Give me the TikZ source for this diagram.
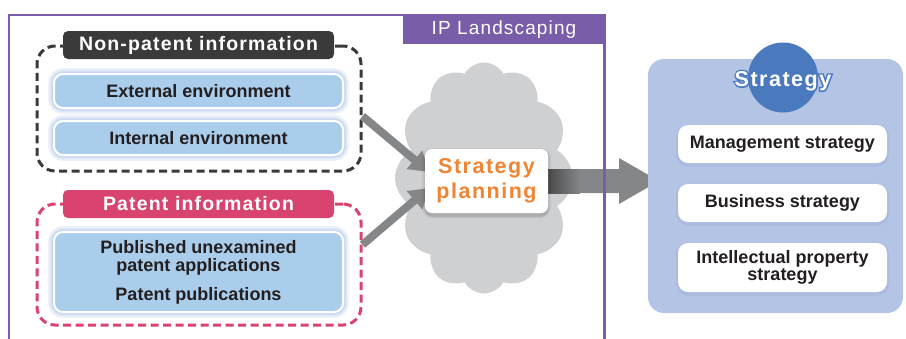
\documentclass[tikz,border=0pt]{standalone}
\usepackage{fontspec}
\setmainfont{Liberation Sans}
\newfontfamily\trackedfont[LetterSpace=6]{Liberation Sans}
\newfontfamily\widefont[LetterSpace=7]{Liberation Sans}
\newfontfamily\haloedfont[LetterSpace=7,FakeBold=14]{Liberation Sans}
\usetikzlibrary{arrows.meta,shapes.symbols,calc}

\definecolor{framepurple}{HTML}{7A5DA8}
\definecolor{inkdark}{HTML}{231F20}
\definecolor{darklabel}{HTML}{3A3A3A}
\definecolor{pinklabel}{HTML}{D8446F}
\definecolor{boxblue}{HTML}{ABCDEC}
\definecolor{glowblue}{HTML}{B9CDEB}
\definecolor{cloudgray}{HTML}{CFD0D2}
\definecolor{arrowgray}{HTML}{858688}
\definecolor{planorange}{HTML}{EF8533}
\definecolor{panelblue}{HTML}{B4C4E4}
\definecolor{circleblue}{HTML}{4A79BE}
\definecolor{panelshadow}{HTML}{98ACD8}

\newcommand{\bodytext}{\bfseries\fontsize{18}{18.5}\selectfont}

\tikzset{
  dashgroup/.style={draw, dashed, dash pattern=on 8pt off 4.5pt, line width=3pt,
    rounded corners=18pt, rectangle, inner sep=0pt},
  grouplabel/.style={rectangle, rounded corners=5pt, inner sep=0pt, text=white,
    minimum width=271pt, minimum height=28pt,
    font=\trackedfont\bfseries\fontsize{19.5}{19.5}\selectfont},
  infobox/.style={rectangle, rounded corners=9pt, draw=white, line width=2pt,
    fill=boxblue, text=inkdark, align=center, inner sep=0pt,
    minimum width=289pt, font=\bodytext,
    preaction={draw=glowblue, line width=12pt, opacity=0.25},
    preaction={draw=glowblue, line width=8pt, opacity=0.35},
    preaction={draw=glowblue, line width=5pt, opacity=0.5}},
  stratbox/.style={rectangle, rounded corners=10pt, fill=white, text=inkdark,
    align=center, inner sep=0pt, minimum width=209pt, font=\bodytext,
    preaction={draw=panelshadow, line width=4pt, opacity=0.35,
      transform canvas={yshift=-1.5pt}}},
  thinarrow/.style={draw=arrowgray, line width=8pt,
    -{Triangle[width=23pt,length=19pt]}},
}

\begin{document}
\begin{tikzpicture}[x=1pt,y=-1pt]
\useasboundingbox (0,0) rectangle (906,338);

% ---- non-patent group ----
\node[dashgroup, draw=darklabel, minimum width=324pt, minimum height=125pt] (np) at (199,108.5) {};
\node[grouplabel, fill=darklabel] (nplab) at (198.5,45) {Non-patent information};
\node[infobox, minimum height=34pt] (ext) at (198.5,91) {External environment};
\node[infobox, minimum height=34pt] (int) at (198.5,138) {Internal environment};

% ---- patent group ----
\node[dashgroup, draw=pinklabel, minimum width=324pt, minimum height=121pt] (pg) at (199,264.5) {};
\node[grouplabel, fill=pinklabel] (pglab) at (198.5,204) {Patent information};
\node[infobox, minimum height=80pt] (pub) at (198.5,272)
  {Published unexamined\\patent applications\\[10pt]Patent publications};

% ---- cloud and planning ----
\node[cloud, fill=cloudgray, draw=none, cloud puffs=12, cloud puff arc=120,
  aspect=0.77, minimum width=178pt, minimum height=231pt] (cl) at (484,178) {};

\draw[thinarrow] ($(np.north east)!0.56!(np.south east)$) -- (429,172) coordinate (t1);
\draw[thinarrow] ($(pg.north east)!0.34!(pg.south east)$) -- (429,188) coordinate (t2);

\coordinate (bigtip) at (659,181);
\fill[arrowgray] (540,169) -- (619,169) -- (619,158) -- (bigtip) -- (619,204)
  -- (619,193) -- (540,193) -- cycle;
% darker shading of the shaft next to the planning box
\shade[left color=black!55!arrowgray, right color=arrowgray]
  (540,169) rectangle (580,193);

\node[rectangle, rounded corners=7pt, fill=white, inner sep=0pt,
  minimum width=123pt, minimum height=64pt, align=center, text=planorange,
  font=\widefont\bfseries\fontsize{21.5}{25}\selectfont,
  preaction={fill=black, opacity=0.06, transform canvas={yshift=-4pt}},
  preaction={draw=black, line width=6pt, opacity=0.05, transform canvas={yshift=-2pt}},
  preaction={draw=black, line width=3pt, opacity=0.07, transform canvas={yshift=-2pt}}]
  (plan) at (486.5,181) {Strategy\\planning};

% ---- IP landscaping frame ----
\draw[framepurple, line width=2.5pt] (9,345) -- (9,15) -- (604.5,15) -- (604.5,345);
\fill[framepurple] (403,14) rectangle (605.7,44);
\node[text=white, font=\trackedfont\fontsize{19}{19}\selectfont] (iplab) at (504,29.5) {IP Landscaping};

% ---- strategy panel ----
\node[rectangle, rounded corners=16pt, fill=panelblue, minimum width=255pt,
  minimum height=254pt, inner sep=0pt] (panel) at (775.5,186) {};
\node[circle, fill=circleblue, minimum size=70pt, inner sep=0pt] (sc) at (783,77.5) {};
% blue halo under the white title
\node[text=circleblue, font=\haloedfont\bfseries\fontsize{21.5}{21.5}\selectfont]
  (shalo) at ($(sc)+(0,3.5)$) {Strategy};
\node[text=white, font=\widefont\bfseries\fontsize{21.5}{21.5}\selectfont]
  (stitle) at ($(sc)+(0,3.5)$) {Strategy};

\node[stratbox, minimum height=38pt] (ms) at (782.5,144) {Management strategy};
\node[stratbox, minimum height=38pt] (bs) at (782.5,203) {Business strategy};
\node[stratbox, minimum height=49pt, font=\bfseries\fontsize{18}{17.5}\selectfont]
  (ips) at (782.5,267.5) {Intellectual property\\strategy};
\end{tikzpicture}
\end{document}
